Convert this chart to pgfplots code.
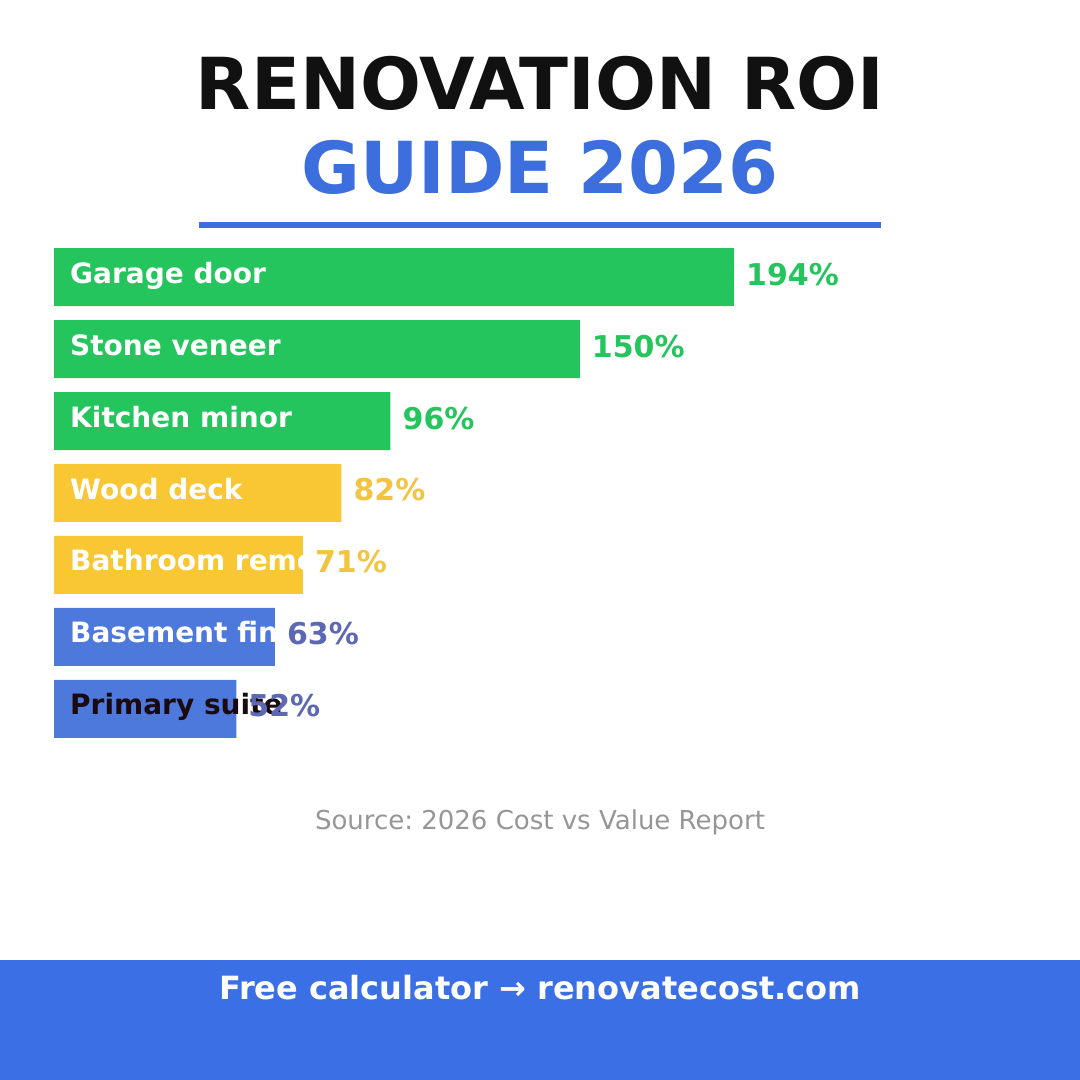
\documentclass[border=0pt]{standalone}
\usepackage{pgfplots}
\pgfplotsset{compat=1.18}
\usepackage{fontspec}
\setmainfont{DejaVu Sans}
\frenchspacing
\definecolor{barGreen}{RGB}{37,197,94}
\definecolor{barYellow}{RGB}{249,199,52}
\definecolor{valYellow}{RGB}{242,196,64}
\definecolor{barBlue}{RGB}{78,121,220}
\definecolor{valBlue}{RGB}{92,104,180}
\definecolor{titleBlue}{RGB}{60,110,222}
\definecolor{footBlue}{RGB}{59,111,229}
\definecolor{titleBlack}{RGB}{17,17,17}
\definecolor{srcGray}{RGB}{150,150,150}
\definecolor{labDark}{RGB}{26,10,16}
\begin{document}
\begin{tikzpicture}[x=1pt,y=1pt]
\path[use as bounding box, fill=white] (0,0) rectangle (1080,1080);
\fill[footBlue] (0,0) rectangle (1080,120);
\node[anchor=base, inner sep=0pt, text=titleBlack, font=\bfseries\fontsize{71.7}{86}\selectfont] at (540,970) {RENOVATION ROI};
\node[anchor=base, inner sep=0pt, text=titleBlue, font=\bfseries\fontsize{71.7}{86}\selectfont] at (540,886) {GUIDE 2026};
\fill[titleBlue] (199,851.5) rectangle (881,858);
\node[anchor=base, inner sep=0pt, text=srcGray, font=\fontsize{26}{31}\selectfont] at (540,250) {Source: 2026 Cost vs Value Report};
\node[anchor=base, inner sep=0pt, text=white, font=\bfseries\fontsize{32}{38}\selectfont] at (540,80) {Free calculator → renovatecost.com};
\begin{axis}[
  scale only axis, width=981.4pt, height=504pt,
  at={(54pt,335pt)}, anchor=south west,
  xmin=0, xmax=280, ymin=-0.5, ymax=6.5,
  axis lines=none, clip=false,
  /pgf/number format/assume math mode=true,
]
\addplot[xbar, bar width=58pt, bar shift=0pt, fill=barGreen, draw=none] coordinates {(194,6) (150,5) (96,4)};
\addplot[xbar, bar width=58pt, bar shift=0pt, fill=barYellow, draw=none] coordinates {(82,3) (71,2)};
\addplot[xbar, bar width=58pt, bar shift=0pt, fill=barBlue, draw=none] coordinates {(63,1) (52,0)};
\node[anchor=base west, inner sep=0pt, xshift=16pt, yshift=-6pt, text=white, font=\bfseries\fontsize{28}{34}\selectfont] at (axis cs:0,6) {Garage door};
\node[anchor=base west, inner sep=0pt, xshift=16pt, yshift=-6pt, text=white, font=\bfseries\fontsize{28}{34}\selectfont] at (axis cs:0,5) {Stone veneer};
\node[anchor=base west, inner sep=0pt, xshift=16pt, yshift=-6pt, text=white, font=\bfseries\fontsize{28}{34}\selectfont] at (axis cs:0,4) {Kitchen minor};
\node[anchor=base west, inner sep=0pt, xshift=16pt, yshift=-6pt, text=white, font=\bfseries\fontsize{28}{34}\selectfont] at (axis cs:0,3) {Wood deck};
\node[anchor=base west, inner sep=0pt, xshift=16pt, yshift=-6pt, text=white, font=\bfseries\fontsize{28}{34}\selectfont] at (axis cs:0,2) {Bathroom remodel};
\node[anchor=base west, inner sep=0pt, xshift=16pt, yshift=-6pt, text=white, font=\bfseries\fontsize{28}{34}\selectfont] at (axis cs:0,1) {Basement finish};
\addplot[draw=none, mark=none, point meta=x,
  nodes near coords={\pgfmathprintnumber{\pgfplotspointmeta}\%},
  nodes near coords style={anchor=base west, inner sep=0pt, xshift=12pt, yshift=-8pt, text=barGreen, font=\bfseries\fontsize{30}{36}\selectfont}]
  coordinates {(194,6) (150,5) (96,4)};
\addplot[draw=none, mark=none, point meta=x,
  nodes near coords={\pgfmathprintnumber{\pgfplotspointmeta}\%},
  nodes near coords style={anchor=base west, inner sep=0pt, xshift=12pt, yshift=-8pt, text=valYellow, font=\bfseries\fontsize{30}{36}\selectfont}]
  coordinates {(82,3) (71,2)};
\addplot[draw=none, mark=none, point meta=x,
  nodes near coords={\pgfmathprintnumber{\pgfplotspointmeta}\%},
  nodes near coords style={anchor=base west, inner sep=0pt, xshift=12pt, yshift=-8pt, text=valBlue, font=\bfseries\fontsize{30}{36}\selectfont}]
  coordinates {(63,1) (52,0)};
\node[anchor=base west, inner sep=0pt, xshift=16pt, yshift=-6pt, text=labDark, font=\bfseries\fontsize{28}{34}\selectfont] at (axis cs:0,0) {Primary suite};
\end{axis}
\end{tikzpicture}
\end{document}
